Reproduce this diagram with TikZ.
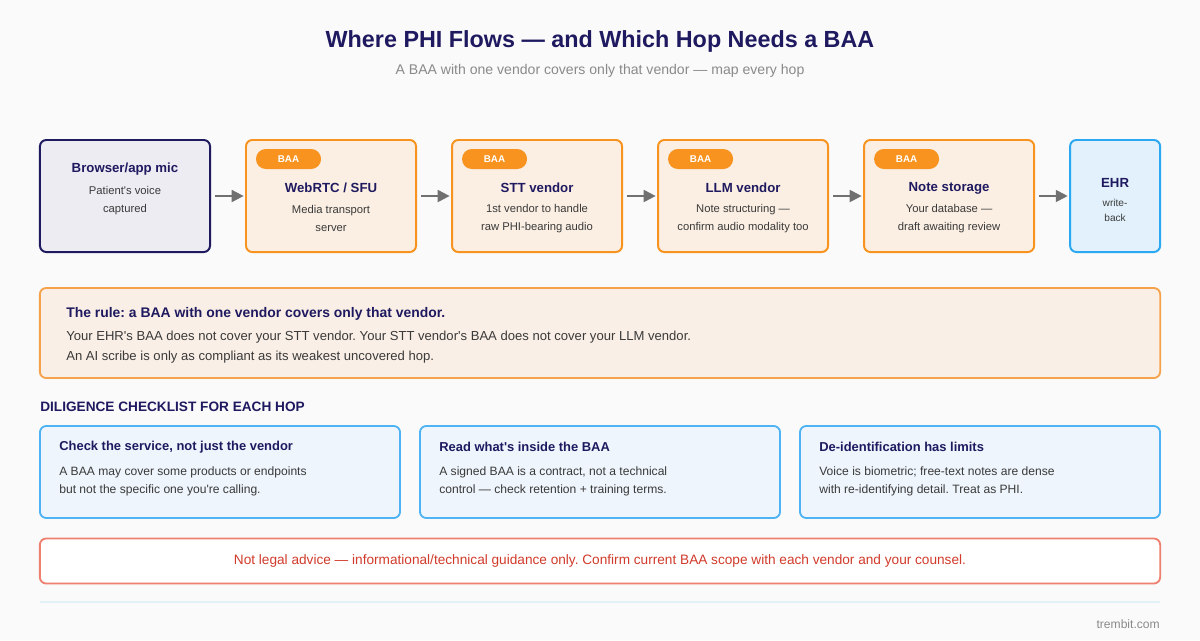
\documentclass[tikz,border=0pt]{standalone}
\usepackage{fontspec}
\setmainfont{Liberation Sans}
\usepackage{xcolor}
\usetikzlibrary{arrows.meta, positioning, calc}
\definecolor{bgc}     {HTML}{FAFAFA}
\definecolor{navy}    {HTML}{1F1A60}
\definecolor{micfill} {HTML}{EDECF2}
\definecolor{myorange}{HTML}{F7931E}
\definecolor{hopfill} {HTML}{FBEFE3}
\definecolor{ehrline} {HTML}{2AA8F2}
\definecolor{ehrfill} {HTML}{E2F1FB}
\definecolor{cardline}{HTML}{4DB3F4}
\definecolor{cardfill}{HTML}{EEF5FC}
\definecolor{ruleline}{HTML}{F5A24A}
\definecolor{rulefill}{HTML}{FAEFE6}
\definecolor{bodytxt} {HTML}{3A3A3A}
\definecolor{subgray} {HTML}{8A8A8A}
\definecolor{argray}  {HTML}{707070}
\definecolor{myred}   {HTML}{D13B2B}
\definecolor{redline} {HTML}{EF7F6E}
\definecolor{sepline} {HTML}{E4F0F8}
\newcommand{\ap}{\textquotesingle}

\begin{document}
\frenchspacing
\begin{tikzpicture}[
  x=0.025cm, y=-0.025cm,
  hop/.style={rectangle, draw=myorange, fill=hopfill, line width=1.4pt,
    rounded corners=4.5pt, minimum width=4.25cm, minimum height=2.8cm,
    inner sep=0pt},
  pill/.style={rectangle, fill=myorange, rounded corners=7pt,
    minimum width=1.625cm, minimum height=0.5cm, inner sep=0pt,
    text=white, font=\fontsize{7}{8}\selectfont\bfseries},
  hoptitle/.style={text=navy, inner sep=0pt,
    font=\fontsize{9.4}{11}\selectfont\bfseries},
  hopbody/.style={text=bodytxt, align=center, inner sep=0pt,
    font=\fontsize{8}{12.8}\selectfont},
  ar/.style={-{Triangle[length=8.5pt, width=8.5pt]}, draw=argray,
    line width=1.4pt, shorten <=3pt, shorten >=1pt},
  card/.style={rectangle, draw=cardline, fill=cardfill, line width=1.3pt,
    rounded corners=4.5pt, minimum width=9cm, minimum height=2.3cm,
    inner sep=0pt},
  cardtitle/.style={text=navy, anchor=west, inner sep=0pt,
    font=\fontsize{9.2}{11}\selectfont\bfseries},
  cardbody/.style={text=bodytxt, anchor=west, align=left, inner sep=0pt,
    font=\fontsize{8.6}{12.8}\selectfont}
]
  \fill[bgc] (0,0) rectangle (1200,640);
  \useasboundingbox (0,0) rectangle (1200,640);

  \node[text=navy, font=\fontsize{16.6}{19}\selectfont\bfseries] (title)
    at (600,41.5) {Where PHI Flows — and Which Hop Needs a BAA};
  \node[text=subgray, font=\fontsize{10}{12}\selectfont] (subtitle)
    at (600,71) {A BAA with one vendor covers only that vendor — map every hop};

  % Flow of hops
  \node[hop, draw=navy, fill=micfill] (mic) at (125,196) {};
  \node[hop, right=0.85cm of mic]   (sfu)   {};
  \node[hop, right=0.85cm of sfu]   (stt)   {};
  \node[hop, right=0.85cm of stt]   (llm)   {};
  \node[hop, right=0.85cm of llm]   (store) {};
  \node[hop, draw=ehrline, fill=ehrfill, minimum width=2.25cm,
    right=0.85cm of store] (ehr) {};

  \foreach \b in {sfu,stt,llm,store}
    \node[pill] (\b-baa) at ($(\b.north west)+(43.5,20)$) {BAA};

  \node[hoptitle] (mic-t) at ($(mic.north)+(0,30)$) {Browser/app mic};
  \node[hopbody]  (mic-b) at ($(mic.north)+(0,61.5)$)
    {Patient\ap s voice\\captured};
  \node[hoptitle] (sfu-t) at ($(sfu.north)+(0,49)$) {WebRTC / SFU};
  \node[hopbody]  (sfu-b) at ($(sfu.north)+(0,79.5)$)
    {Media transport\\server};
  \node[hoptitle] (stt-t) at ($(stt.north)+(0,49)$) {STT vendor};
  \node[hopbody]  (stt-b) at ($(stt.north)+(0,79.5)$)
    {1st vendor to handle\\raw PHI-bearing audio};
  \node[hoptitle] (llm-t) at ($(llm.north)+(0,49)$) {LLM vendor};
  \node[hopbody]  (llm-b) at ($(llm.north)+(0,79.5)$)
    {Note structuring —\\confirm audio modality too};
  \node[hoptitle] (store-t) at ($(store.north)+(0,49)$) {Note storage};
  \node[hopbody]  (store-b) at ($(store.north)+(0,79.5)$)
    {Your database —\\draft awaiting review};
  \node[hoptitle] (ehr-t) at ($(ehr.north)+(0,44)$) {EHR};
  \node[hopbody, font=\fontsize{7.2}{10.7}\selectfont] (ehr-b)
    at ($(ehr.north)+(0,71)$) {write-\\back};

  % Arrows
  \draw[ar] (mic)   -- (sfu);
  \draw[ar] (sfu)   -- (stt);
  \draw[ar] (stt)   -- (llm);
  \draw[ar] (llm)   -- (store);
  \draw[ar] (store) -- (ehr);

  % The rule
  \node[rectangle, draw=ruleline, fill=rulefill, line width=1.3pt,
    rounded corners=4.5pt, minimum width=28cm, minimum height=2.25cm,
    inner sep=0pt] (rule) at (600,333) {};
  \node[cardtitle, font=\fontsize{9.9}{12}\selectfont\bfseries] (rule-t)
    at (66,314) {The rule: a BAA with one vendor covers only that vendor.};
  \node[cardbody, font=\fontsize{9.3}{14.2}\selectfont] (rule-b) at (66,347.5)
    {Your EHR\ap s BAA does not cover your STT vendor. Your STT vendor\ap s BAA does not cover your LLM vendor.\\
     An AI scribe is only as compliant as its weakest uncovered hop.};

  % Checklist
  \node[text=navy, anchor=west, inner sep=0pt,
    font=\fontsize{9.7}{11}\selectfont\bfseries] (check) at (40,407)
    {DILIGENCE CHECKLIST FOR EACH HOP};
  \node[card] (svc)  at (220,472) {};
  \node[card] (read) at (600,472) {};
  \node[card] (deid) at (980,472) {};
  \node[cardtitle] (svc-t) at ($(svc.north west)+(20,22)$)
    {Check the service, not just the vendor};
  \node[cardbody]  (svc-b) at ($(svc.north west)+(20,56)$)
    {A BAA may cover some products or endpoints\\but not the specific one you\ap re calling.};
  \node[cardtitle] (read-t) at ($(read.north west)+(20,22)$)
    {Read what\ap s inside the BAA};
  \node[cardbody]  (read-b) at ($(read.north west)+(20,56)$)
    {A signed BAA is a contract, not a technical\\control — check retention + training terms.};
  \node[cardtitle] (deid-t) at ($(deid.north west)+(20,22)$)
    {De-identification has limits};
  \node[cardbody]  (deid-b) at ($(deid.north west)+(20,56)$)
    {Voice is biometric; free-text notes are dense\\with re-identifying detail. Treat as PHI.};

  % Disclaimer and footer
  \node[rectangle, draw=redline, fill=white, line width=1.3pt,
    rounded corners=4.5pt, minimum width=28cm, minimum height=1.125cm,
    text=myred, font=\fontsize{9.7}{11}\selectfont] (legal) at (600,561)
    {Not legal advice — informational/technical guidance only. Confirm current BAA scope with each vendor and your counsel.};
  \draw[sepline, line width=1.4pt] (40,602) -- (1160,602);
  \node[text=subgray, anchor=east, inner sep=0pt,
    font=\fontsize{8.6}{10}\selectfont] (site) at (1160,624) {trembit.com};
\end{tikzpicture}
\end{document}
